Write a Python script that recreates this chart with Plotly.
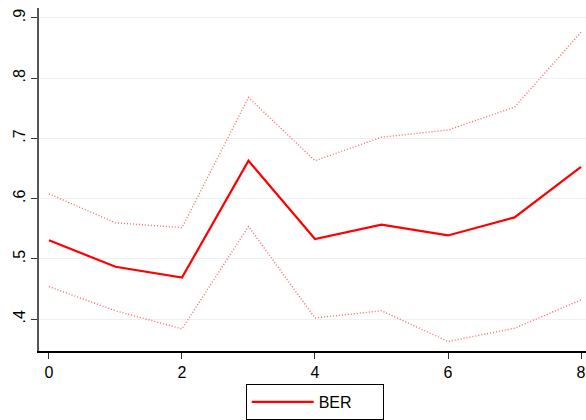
import plotly.graph_objects as go

x_vals = [0, 1, 2, 3, 4, 5, 6, 7, 8]
ber = [0.531, 0.487, 0.469, 0.663, 0.533, 0.557, 0.539, 0.569, 0.653]
ber_upper = [0.608, 0.560, 0.552, 0.768, 0.663, 0.702, 0.714, 0.752, 0.876]
ber_lower = [0.454, 0.414, 0.384, 0.554, 0.402, 0.414, 0.363, 0.385, 0.432]
y_ticks = [0.4, 0.5, 0.6, 0.7, 0.8, 0.9]
y_labels = [".4", ".5", ".6", ".7", ".8", ".9"]
x_ticks = [0, 2, 4, 6, 8]

fig = go.Figure()
ci_line = dict(color="rgba(255,50,50,0.75)", width=1.4, dash="1px,2px")
fig.add_trace(go.Scatter(x=x_vals, y=ber_upper, mode="lines", line=ci_line,
                         showlegend=False, hoverinfo="skip"))
fig.add_trace(go.Scatter(x=x_vals, y=ber_lower, mode="lines", line=ci_line,
                         showlegend=False, hoverinfo="skip"))
fig.add_trace(go.Scatter(x=x_vals, y=ber, mode="lines", name="BER",
                         line=dict(color="#ff0000", width=2.2)))

fig.update_layout(
    width=586, height=420,
    margin=dict(l=39, r=0, t=8, b=67),
    paper_bgcolor="white", plot_bgcolor="white",
    font=dict(family="Liberation Sans, Arial, sans-serif", size=16, color="black"),
    xaxis=dict(range=[-0.15, 8.075], tickvals=x_ticks, ticks="outside", ticklen=6,
               tickcolor="#333", showline=True, linecolor="black", linewidth=1.5,
               showgrid=False, zeroline=False, tickfont=dict(size=16)),
    yaxis=dict(range=[0.3472, 0.9165], tickvals=y_ticks, ticktext=y_labels,
               ticks="outside", ticklen=6, tickcolor="#333", tickangle=-90,
               showline=True, linecolor="#555", linewidth=1.5,
               showgrid=True, gridcolor="#eaf2f3", gridwidth=1.2,
               zeroline=False, tickfont=dict(size=16)),
    legend=dict(orientation="h", x=0.504, xanchor="center", y=-0.097, yanchor="top",
                bordercolor="black", borderwidth=1, bgcolor="white",
                font=dict(size=16), itemwidth=62, entrywidth=59,
                tracegroupgap=0),
)

fig.write_html("out.html")
